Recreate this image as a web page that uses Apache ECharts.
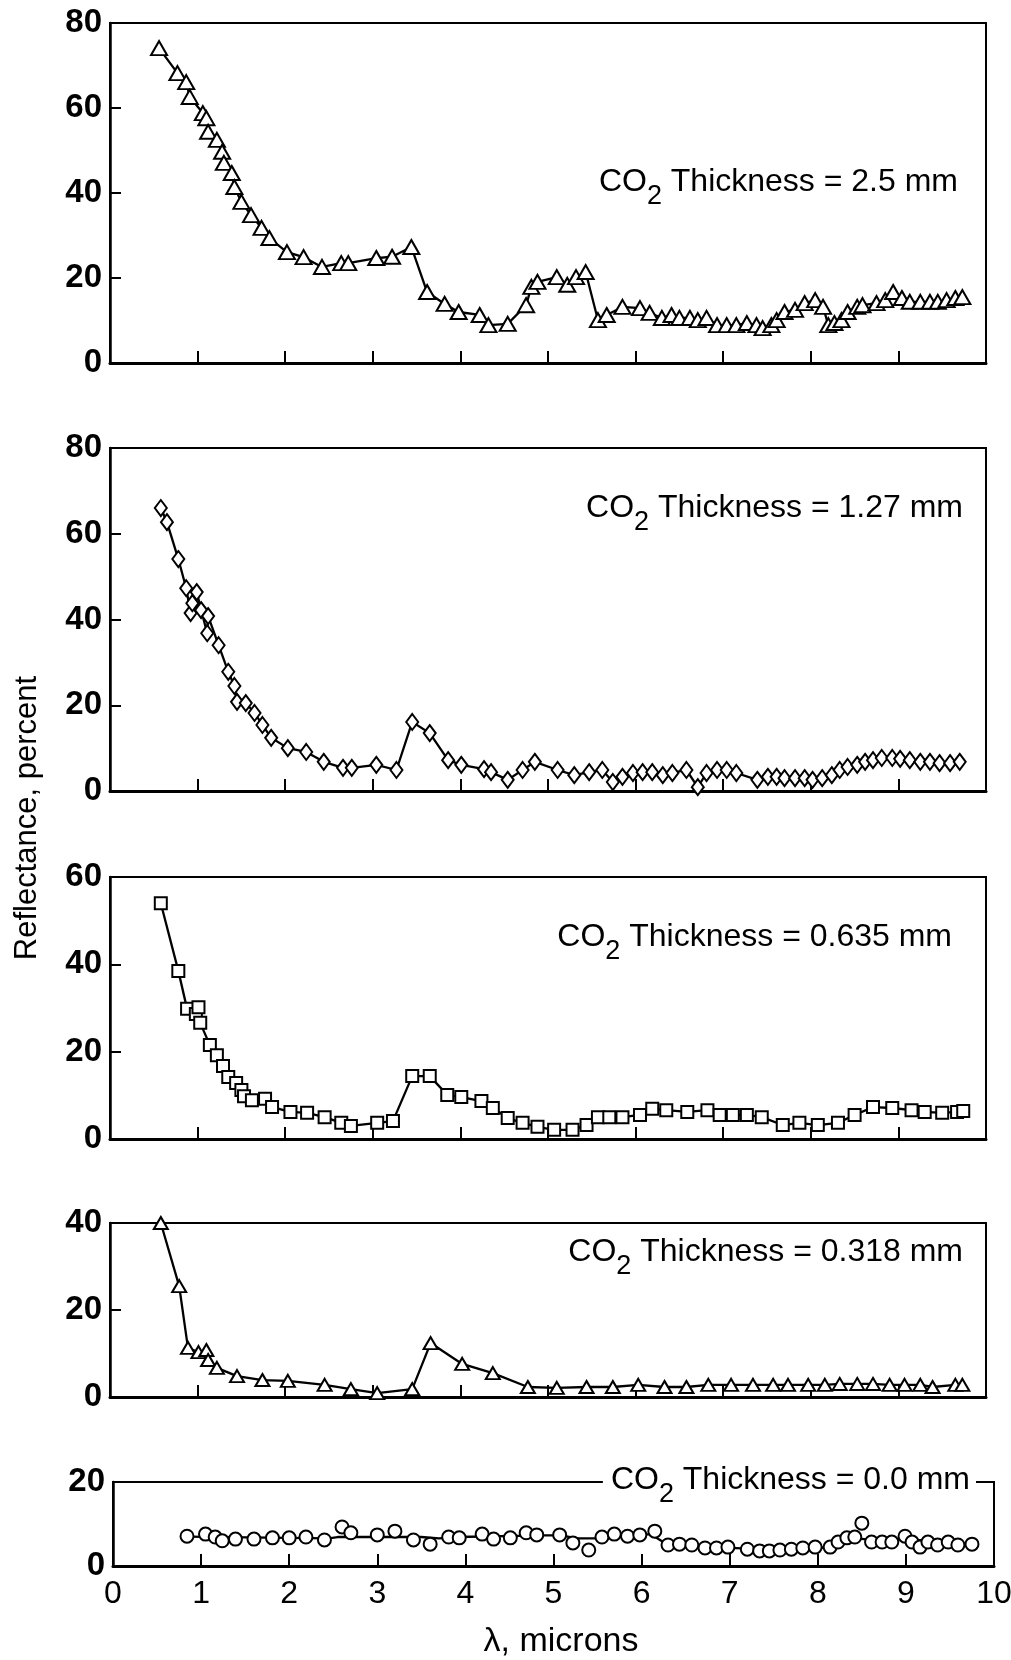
<!DOCTYPE html>
<html>
<head>
<meta charset="UTF-8">
<title>CO2 Thickness reflectance</title>
<style>
html, body { margin: 0; padding: 0; background: #fff; }
#chart { width: 1011px; height: 1660px; }
</style>
</head>
<body>
<div id="chart"></div>
<script src="https://cdn.jsdelivr.net/npm/echarts@6/dist/echarts.min.js"></script>
<script>
// panel 1 - CO2 2.5 mm (triangles)
var wl1 = [0.56,0.77,0.87,0.91,1.06,1.10,1.12,1.22,1.28,1.30,1.39,1.42,1.50,1.61,1.73,1.82,2.02,2.21,2.42,2.64,2.72,3.04,3.22,3.44,3.62,3.82,3.98,4.22,4.32,4.54,4.75,4.81,4.88,5.10,5.22,5.32,5.43,5.57,5.67,5.85,6.05,6.16,6.30,6.41,6.50,6.62,6.71,6.81,6.93,7.04,7.15,7.27,7.38,7.45,7.55,7.61,7.70,7.82,7.93,8.05,8.14,8.20,8.27,8.35,8.42,8.53,8.59,8.75,8.85,8.94,9.04,9.13,9.25,9.36,9.45,9.55,9.65,9.73];
var r1  = [74.1,68.2,66.1,62.6,58.8,57.6,54.4,52.5,49.7,47.1,44.7,41.4,37.9,34.8,31.8,29.4,26.1,24.9,22.6,23.5,23.5,24.7,25.0,27.3,16.7,13.9,12.0,11.3,8.9,9.2,13.6,17.9,19.1,20.2,18.4,20.2,21.4,10.1,11.3,13.2,12.9,11.8,10.6,11.3,10.6,10.6,10.1,10.6,8.9,8.9,8.9,9.4,8.9,8.2,8.9,10.1,12.0,12.5,14.1,14.8,13.2,8.9,9.4,10.1,12.0,13.2,13.6,14.1,14.8,16.7,15.3,14.4,14.4,14.4,14.4,14.8,15.3,15.5];

// panel 2 - CO2 1.27 mm (diamonds)
var wl2 = [0.58,0.65,0.78,0.87,0.92,0.94,0.99,1.04,1.11,1.12,1.24,1.35,1.42,1.45,1.55,1.65,1.74,1.84,2.03,2.24,2.44,2.66,2.76,3.04,3.27,3.45,3.65,3.86,4.01,4.27,4.35,4.54,4.71,4.85,5.11,5.30,5.47,5.62,5.74,5.85,5.97,6.08,6.19,6.31,6.42,6.58,6.71,6.81,6.93,7.04,7.15,7.39,7.51,7.61,7.70,7.82,7.93,8.02,8.13,8.24,8.33,8.42,8.53,8.62,8.71,8.81,8.93,9.02,9.13,9.25,9.36,9.47,9.59,9.70];
var r2  = [66.0,62.7,54.1,47.3,41.5,43.8,46.4,42.2,36.8,40.8,34.0,27.8,24.5,20.8,20.5,18.2,15.4,12.4,10.0,9.1,6.8,5.4,5.4,6.1,4.9,16.1,13.5,7.2,6.1,5.1,4.4,2.6,4.9,6.8,4.9,3.7,4.4,4.9,2.1,3.3,4.2,4.4,4.4,3.7,4.2,4.9,0.9,4.2,4.9,4.9,4.2,2.6,3.3,3.3,3.0,3.0,3.0,2.6,3.0,3.7,4.9,5.6,6.1,6.8,7.2,7.7,7.7,7.5,7.2,6.8,6.8,6.5,6.5,6.8];

// panel 3 - CO2 0.635 mm (squares)
var wl3 = [0.58,0.78,0.88,0.98,1.01,1.03,1.14,1.22,1.29,1.35,1.44,1.50,1.53,1.62,1.77,1.85,2.06,2.25,2.45,2.64,2.75,3.05,3.23,3.45,3.65,3.85,4.01,4.24,4.37,4.54,4.71,4.88,5.07,5.28,5.44,5.57,5.70,5.85,6.05,6.19,6.35,6.59,6.82,6.96,7.11,7.27,7.44,7.68,7.87,8.08,8.31,8.50,8.71,8.93,9.15,9.30,9.50,9.67,9.74];
var r3  = [54.0,38.5,29.8,28.6,30.2,26.6,21.5,19.2,16.7,14.2,12.8,11.2,9.8,8.9,9.2,7.3,6.2,6.0,5.0,3.7,3.0,3.7,4.1,14.4,14.4,10.1,9.6,8.7,7.1,4.8,3.7,2.8,2.1,2.1,3.2,5.0,5.0,5.0,5.5,6.9,6.6,6.2,6.6,5.5,5.5,5.5,5.0,3.2,3.7,3.2,3.7,5.5,7.3,7.1,6.6,6.2,6.0,6.2,6.4];

// panel 4 - CO2 0.318 mm (triangles)
var wl4 = [0.58,0.79,0.89,1.01,1.10,1.12,1.22,1.45,1.74,2.03,2.45,2.75,3.05,3.45,3.66,4.02,4.37,4.77,5.10,5.44,5.74,6.03,6.33,6.58,6.83,7.09,7.34,7.57,7.74,7.97,8.16,8.33,8.53,8.71,8.90,9.07,9.25,9.39,9.65,9.73];
var r4  = [40.0,25.5,11.3,10.3,10.8,8.5,6.7,4.8,3.9,3.7,2.8,1.8,0.9,1.8,12.4,7.6,5.5,2.3,2.1,2.3,2.3,2.8,2.3,2.3,2.8,2.8,2.8,2.8,2.8,2.8,2.8,3.0,3.0,3.0,2.8,2.8,2.8,2.3,2.8,2.8];

// panel 5 - CO2 0.0 mm (circles) and the drawn curve through them
var wl5 = [0.84,1.05,1.16,1.24,1.39,1.60,1.81,2.00,2.19,2.40,2.60,2.70,3.00,3.20,3.41,3.60,3.81,3.93,4.19,4.32,4.51,4.69,4.81,5.07,5.22,5.40,5.55,5.69,5.84,5.98,6.15,6.30,6.43,6.57,6.72,6.85,6.98,7.20,7.34,7.45,7.57,7.70,7.83,7.97,8.14,8.23,8.33,8.42,8.50,8.61,8.73,8.84,8.99,9.07,9.16,9.25,9.36,9.48,9.59,9.75];
var r5  = [7.1,7.6,6.9,6.0,6.4,6.4,6.7,6.7,6.9,6.2,9.3,7.9,7.4,8.3,6.2,5.2,6.9,6.7,7.6,6.4,6.7,7.9,7.4,7.4,5.5,3.8,6.9,7.6,7.1,7.4,8.3,5.0,5.2,5.0,4.3,4.3,4.5,4.0,3.6,3.6,3.8,4.0,4.3,4.5,4.5,5.7,6.7,6.9,10.2,5.7,5.7,5.7,7.1,5.7,4.5,5.7,5.0,5.7,5.0,5.2];
var fitWl5 = [0.84,2.45,2.55,3.5,3.7,3.9,4.9,5.1,5.25,5.55,6.1,6.3,7.0,7.5,8.1,8.45,8.7,9.0,9.75];
var fitR5  = [7.0,6.6,6.9,6.9,6.6,6.9,7.3,7.3,6.6,6.6,7.6,5.0,4.3,3.9,4.4,6.6,6.0,6.4,5.2];

var thick = ['2.5', '1.27', '0.635', '0.318', '0.0'];
var yMax = [80, 80, 60, 40, 20];

var NF = '"Liberation Sans Narrow", "Liberation Sans", sans-serif';
var LF = '"Liberation Sans", Arial, sans-serif';

var boxes = [
	{left: 110, top: 23,   width: 876, height: 340},
	{left: 110, top: 448,  width: 876, height: 343},
	{left: 110, top: 877,  width: 876, height: 262},
	{left: 110, top: 1223, width: 876, height: 174},
	{left: 113, top: 1482, width: 881, height: 84}
];
var labelPos = [[958, 182], [963, 508], [952, 937], [963, 1252], [970, 1480]];
var marks = [['triangle', [16, 14]], ['diamond', [12, 16]], ['rect', [12, 12]], ['triangle', [14, 12]], ['circle', [13, 13]]];

function zip(a, b) {
	var out = [];
	for (var i = 0; i < a.length; i++) out.push([a[i], b[i]]);
	return out;
}

var grids = [], xAxes = [], yAxes = [], series = [];
var sets = [[wl1, r1], [wl2, r2], [wl3, r3], [wl4, r4], [wl5, r5]];

for (var i = 0; i < 5; i++) {
	var b = boxes[i];
	grids.push({left: b.left, top: b.top, width: b.width, height: b.height,
		show: true, borderColor: '#000', borderWidth: 2, containLabel: false, outerBoundsMode: 'none'});
	xAxes.push({
		type: 'value', gridIndex: i, min: 0, max: 10, interval: 1,
		axisLine: {show: true, onZero: false, lineStyle: {color: '#000', width: 3}},
		axisTick: {show: true, inside: true, length: 12, lineStyle: {color: '#000', width: 2}},
		axisLabel: {show: i == 4, margin: 12, color: '#000', fontSize: 32, fontFamily: NF},
		splitLine: {show: false}
	});
	yAxes.push({
		type: 'value', gridIndex: i, min: 0, max: yMax[i], interval: 20,
		axisLine: {show: true, onZero: false, lineStyle: {color: '#000', width: 2.5}},
		axisTick: {show: true, inside: true, length: 11, lineStyle: {color: '#000', width: 2}},
		axisLabel: {margin: 8, color: '#000', fontSize: 33, fontFamily: NF, fontWeight: 'bold'},
		splitLine: {show: false}
	});
	var pts = zip(sets[i][0], sets[i][1]);
	series.push({
		type: 'line', xAxisIndex: i, yAxisIndex: i, data: pts,
		symbol: marks[i][0], symbolSize: marks[i][1], showSymbol: true,
		itemStyle: {color: '#fff', borderColor: '#000', borderWidth: 2},
		lineStyle: {color: '#000', width: i == 4 ? 0 : 2.3},
		clip: false, z: 3
	});
}
// curve drawn through the 0.0 mm points
series.push({
	type: 'line', xAxisIndex: 4, yAxisIndex: 4, data: zip(fitWl5, fitR5),
	showSymbol: false, symbol: 'none', lineStyle: {color: '#000', width: 2.3}, z: 2
});

// text labels
var ctx = document.createElement('canvas').getContext('2d');
function tw(s, size) {
	ctx.font = size + 'px ' + LF;
	return ctx.measureText(s).width;
}
var graphics = [];
for (var j = 0; j < 5; j++) {
	var rest = ' Thickness = ' + thick[j] + ' mm';
	var w1 = tw('CO', 32), w2 = tw('2', 27), w3 = tw(rest, 32);
	var x0 = labelPos[j][0] - w1 - w2 - w3;
	var cy = labelPos[j][1];
	if (j == 4) {
		graphics.push({type: 'rect', z: 90, shape: {x: x0 - 8, y: cy - 22, width: w1 + w2 + w3 + 14, height: 42}, style: {fill: '#fff'}});
	}
	graphics.push({type: 'text', z: 100, x: x0, y: cy, style: {text: 'CO', font: '32px ' + LF, fill: '#000', textAlign: 'left', textVerticalAlign: 'middle'}});
	graphics.push({type: 'text', z: 100, x: x0 + w1, y: cy + 15, style: {text: '2', font: '27px ' + LF, fill: '#000', textAlign: 'left', textVerticalAlign: 'middle'}});
	graphics.push({type: 'text', z: 100, x: x0 + w1 + w2, y: cy, style: {text: rest, font: '32px ' + LF, fill: '#000', textAlign: 'left', textVerticalAlign: 'middle'}});
}
graphics.push({type: 'text', z: 100, x: 27, y: 818, rotation: Math.PI / 2,
	style: {text: 'Reflectance, percent', font: '31px ' + LF, fill: '#000', textAlign: 'center', textVerticalAlign: 'middle'}});
graphics.push({type: 'text', z: 100, x: 561, y: 1642,
	style: {text: 'λ, microns', font: '34px ' + LF, fill: '#000', textAlign: 'center', textVerticalAlign: 'middle'}});

var chart = echarts.init(document.getElementById('chart'), null, {renderer: 'canvas'});
chart.setOption({
	animation: false,
	backgroundColor: '#fff',
	grid: grids,
	xAxis: xAxes,
	yAxis: yAxes,
	series: series,
	graphic: graphics
});
</script>
</body>
</html>
